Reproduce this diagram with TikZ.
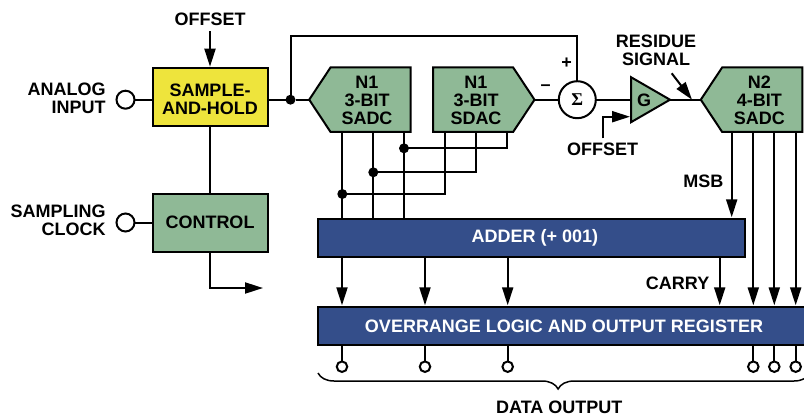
\documentclass[tikz,border=0pt]{standalone}
\usepackage{fontspec}
\setmainfont{Liberation Sans}
\newfontfamily\sigmafont{Liberation Serif}
\usetikzlibrary{arrows.meta,shapes.geometric,shapes.symbols,decorations.pathreplacing}
\definecolor{holdyellow}{RGB}{238,228,60}
\definecolor{blockgreen}{RGB}{143,185,150}
\definecolor{busblue}{RGB}{52,78,138}

\begin{document}
\begin{tikzpicture}[x=1pt, y=-1pt, line width=2pt,
every node/.style={inner sep=0pt, outer sep=0pt, align=center,
    font=\bfseries\fontsize{18}{18}\selectfont},
block/.style={draw, rectangle, fill=blockgreen, minimum width=115pt, minimum height=58pt},
bus/.style={draw, rectangle, fill=busblue, text=white, minimum height=38pt},
adc/.style={draw, signal, fill=blockgreen, minimum width=101.5pt, minimum height=64.5pt,
    signal pointer angle=113},
port/.style={draw, circle, fill=white, minimum size=18pt},
pin/.style={draw, circle, fill=white, minimum size=10.5pt},
dot/.style={circle, fill=black, minimum size=10pt},
arrowed/.style={-{Triangle[length=18pt,width=11pt]}, shorten >=1.5pt}
]
\useasboundingbox (0,0) rectangle (804,418);

% blocks
\node[block, fill=holdyellow] (hold) at (210,97.2) {\rule{0pt}{16pt}SAMPLE-\\AND-HOLD};
\node[block] (control) at (210,222.5) {CONTROL};
\node[adc, signal to=west, anchor=east] (adc1) at (410.7,99.7) {};
\node (adc1text) at (367,100.7) {N1\\3-BIT\\SADC};
\node[adc, signal to=east, anchor=west] (dac1) at (433,99.7) {};
\node (dac1text) at (476,100.7) {N1\\3-BIT\\SDAC};
\node[adc, signal to=west, anchor=east] (adc2) at (802.3,99.7) {};
\node (adc2text) at (759.3,100.7) {N2\\4-BIT\\SADC};
\node[draw, circle, fill=white, minimum size=37pt, font=\sigmafont\bfseries\fontsize{18}{18}\selectfont] (sum) at (577.3,99.7) {Σ};
\node[draw, isosceles triangle, isosceles triangle apex angle=60, fill=blockgreen,
    minimum height=39pt, minimum width=45pt, anchor=apex] (gain) at (670,99.7) {};
\node (gaintext) at (644,100.2) {G};
\node[bus, minimum width=426.7pt] (adder) at (531.3,237.8) {\hspace*{7.4pt}ADDER (+ 001)};
\node[bus, minimum width=492pt] (register) at (564,325.8) {OVERRANGE LOGIC AND OUTPUT REGISTER};

% ports and labels
\node[port] (analog) at (125.5,99.7) {};
\node[port] (clock) at (125.5,222.5) {};
\node[anchor=east, align=right] (analogtext) at (105.7,98) {ANALOG\\INPUT};
\node[anchor=east, align=right] (clocktext) at (105.7,220) {SAMPLING\\CLOCK};
\node (offset1) at (210,19) {OFFSET};
\node (offset2) at (602.7,149.3) {OFFSET};
\node (residue) at (656,50.8) {RESIDUE\\SIGNAL};
\node[anchor=east] (msb) at (723.3,181.7) {MSB};
\node[anchor=east] (carry) at (709.3,283.3) {CARRY};
\node (plus) at (566.7,63.3) {+};
\node (minus) at (545.7,87.5) {–};
\node (dataout) at (559.3,407.7) {DATA OUTPUT};

% free ends and corners
\coordinate (offset1in) at (210,31);
\coordinate (ctrlout) at (263,288);
\coordinate (feedback) at (577.3,36);
\coordinate (offset2in) at (602.7,138.3);
\coordinate (gainin) at (631,116.7);
\coordinate (residuein) at (671.7,73.3);
\coordinate (residueto) at (692,99.7);

% plain connectors
\node[dot] (split) at (290.5,99.7) {};
\foreach \i/\j in {analog/analog -| hold.west, clock/clock -| control.west,
                   hold.south/control.north, split/adc1.west,
                   dac1.east/sum.west, sum.east/gain.lower side,
                   gain.apex/adc2.west, split -| hold.east/split}
    \draw (\i) -- (\j);
\draw (split) |- (feedback) -- (sum.north);

% arrows with a named end
\draw[arrowed] (offset1in) -- (hold.north);
\draw[arrowed, shorten >=0pt] (control.south) |- (ctrlout);
\draw[arrowed, shorten >=1pt] (offset2in) |- (gainin);
\draw[arrowed, shorten >=0pt] (residuein) -- (residueto);

% SADC bits to adder, tied to the SDAC bits
\foreach \n/\x/\y/\m/\mx in {a/342.3/194/d/444.7, b/373.3/172.3/e/475.7, c/404/148.3/f/506.7}{
    \coordinate (\n) at (\x,\y);
    \coordinate (\m) at (\mx,\y);
    \draw (\n |- adc1.south) -- (\n |- adder.north);
    \draw (\m |- dac1.south) -- (\m) -- (\n);
    \node[dot] (\n dot) at (\n) {};
}

% second stage to register
\foreach \n/\x in {o1/342, o2/425, o3/507.7, o4/719.7}{
    \coordinate (\n) at (\x,280);
    \draw[arrowed] (\n |- adder.south) -- (\n |- register.north);
}
\coordinate (msbline) at (731.7,180);
\draw[arrowed] (msbline |- adc2.south) -- (msbline |- adder.north);
\foreach \n/\x in {o5/753.3, o6/774.3, o7/795.7}{
    \coordinate (\n) at (\x,280);
    \draw[arrowed] (\n |- adc2.south) -- (\n |- register.north);
}

% output pins
\foreach \n/\x in {o1/342, o2/425, o3/507.7, o5/753.3, o6/774.3, o7/795.7}{
    \node[pin] (\n pin) at (\x,366.7) {};
    \draw (\n pin) -- (\n pin |- register.south);
}

% brace
\coordinate (bracel) at (318,373);
\coordinate (bracer) at (810,373);
\draw[line width=1.5pt, decorate, decoration={brace, mirror, amplitude=16pt, aspect=.488}] (bracel) -- (bracer);

\end{tikzpicture}
\end{document}
